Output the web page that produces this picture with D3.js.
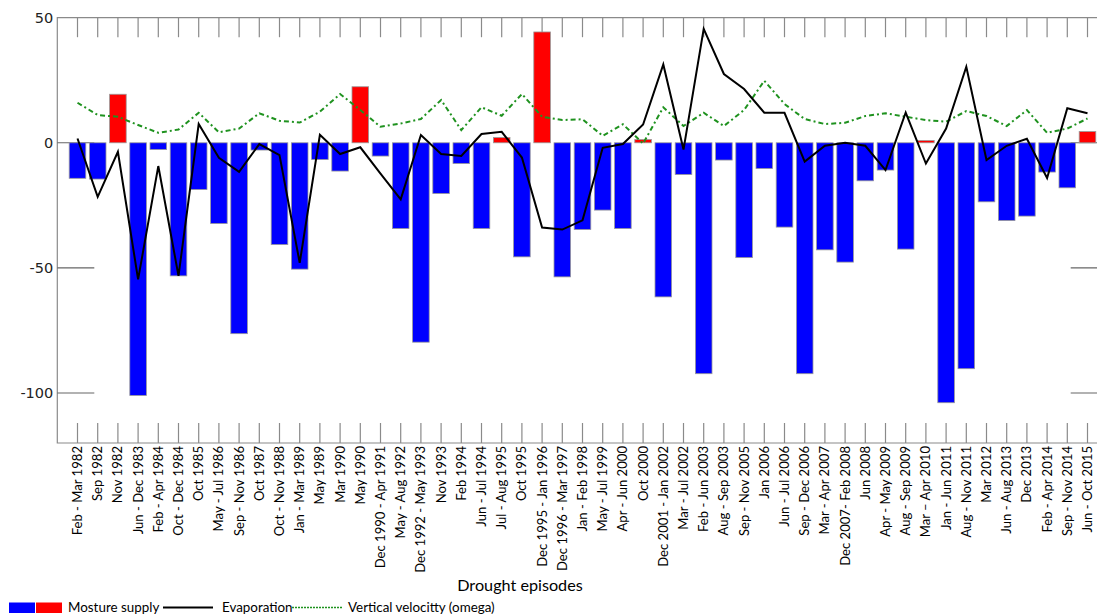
<!DOCTYPE html>
<html>
<head>
<meta charset="utf-8">
<script src="https://cdn.jsdelivr.net/npm/d3@7"></script>
<style>
  body { margin: 0; background: #fff; }
  svg { display: block; }
</style>
</head>
<body>
<div id="vis"></div>
<script>
var episodes = ["Feb - Mar 1982", "Sep 1982", "Nov 1982", "Jun - Dec 1983", "Feb - Apr 1984",
  "Oct - Dec 1984", "Oct 1985", "May - Jul 1986", "Sep - Nov 1986", "Oct 1987",
  "Oct - Nov 1988", "Jan - Mar 1989", "May 1989", "Mar 1990", "May 1990",
  "Dec 1990 - Apr 1991", "May - Aug 1992", "Dec 1992 - May 1993", "Nov 1993", "Feb 1994",
  "Jun - Jul 1994", "Jul - Aug 1995", "Oct 1995", "Dec 1995 - Jan 1996", "Dec 1996 - Mar 1997",
  "Jan - Feb 1998", "May - Jul 1999", "Apr - Jun 2000", "Oct 2000", "Dec 2001 - Jan 2002",
  "Mar - Jul 2002", "Feb - Jun 2003", "Aug - Sep 2003", "Sep - Nov 2005", "Jan 2006",
  "Jun - Jul 2006", "Sep - Dec 2006", "Mar - Apr 2007", "Dec 2007- Feb 2008", "Jun 2008",
  "Apr - May 2009", "Aug - Sep 2009", "Mar \u2013 Apr 2010", "Jan - Jun 2011", "Aug - Nov 2011",
  "Mar 2012", "Jun - Aug 2013", "Dec 2013", "Feb - Apr 2014", "Sep - Nov 2014",
  "Jun - Oct 2015"];

var moisture = [-14.2, -14.5, 19.4, -101, -2.7, -53.2, -18.7, -32.3, -76.3, -2.9,
  -40.7, -50.5, -6.7, -11.3, 22.4, -5.3, -34.3, -79.7, -20.3, -8.3,
  -34.3, 2.1, -45.6, 44.3, -53.6, -34.7, -26.9, -34.3, 1.3, -61.6,
  -12.7, -92.3, -6.9, -45.9, -10.3, -33.7, -92.3, -42.8, -47.7, -15.2,
  -10.9, -42.5, 0.9, -103.9, -90.3, -23.6, -31.1, -29.3, -11.7, -18,
  4.5];

var evaporation = [1.7, -21.6, -3.6, -54.6, -9.3, -53.2, 7.5, -6, -11.6, -0.5,
  -4.9, -48, 3.2, -4.5, -1.8, -12.3, -22.6, 3.1, -4.5, -5.3,
  3.5, 4.4, -5.9, -33.9, -34.7, -31, -2, -0.5, 7.3, 31.3,
  -2.7, 45.5, 27.5, 21.5, 12, 12, -7.5, -1.2, 0, -1.2,
  -10.9, 12.1, -8.3, 5.7, 30.4, -6.9, -1.2, 1.6, -14.1, 13.8,
  11.8];

var omega = [16, 11.1, 10.4, 7.1, 4, 5.3, 12, 4.2, 5.7, 11.8,
  8.8, 8.1, 12.4, 19.5, 13.1, 6.4, 7.7, 9.5, 17.1, 5.1,
  14.2, 10.8, 19.5, 10.4, 9.1, 9.4, 2.8, 7.4, -0.3, 14.2,
  6.7, 12, 6.7, 13.1, 24.8, 15.5, 9.5, 7.5, 8, 10.7,
  11.8, 10.4, 9.1, 8.4, 12.7, 10.7, 6.7, 13.1, 4, 5.7,
  9.7];

var yTicks = [50, 0, -50, -100];

var W = 1097, H = 615;
var mLeft = 57.3, mTop = 17.7, mBottom = 443, mRight = 1107.7;

var svg = d3.select("div#vis").append("svg")
  .attr("width", W)
  .attr("height", H);

var x = d3.scalePoint()
  .domain(episodes)
  .range([mLeft, mRight])
  .padding(1);

var y = d3.scaleLinear()
  .domain([-120, 50])
  .range([mBottom, mTop]);

var barW = 16.6;

// frame
svg.append("path")
  .attr("d", "M" + mRight + "," + mTop + "H" + mLeft + "V" + mBottom + "H" + mRight)
  .attr("fill", "none")
  .attr("stroke", "#8a8a8a")
  .attr("stroke-width", 1.2);

// inward ticks top and bottom
var ticks = svg.append("g").attr("stroke", "#8a8a8a").attr("stroke-width", 1.2);
ticks.selectAll(".tt").data(episodes).enter().append("line")
  .attr("class", "tt")
  .attr("x1", function(d) { return x(d); }).attr("x2", function(d) { return x(d); })
  .attr("y1", mTop).attr("y2", mTop + 19.5);
ticks.selectAll(".tb").data(episodes).enter().append("line")
  .attr("class", "tb")
  .attr("x1", function(d) { return x(d); }).attr("x2", function(d) { return x(d); })
  .attr("y1", mBottom - 20).attr("y2", mBottom);

// y ticks, both sides
var yt = svg.append("g").attr("stroke", "#666").attr("stroke-width", 1.1);
yt.selectAll(".yl").data(yTicks.slice(1)).enter().append("line")
  .attr("class", "yl")
  .attr("x1", mLeft).attr("x2", mLeft + 37)
  .attr("y1", function(d) { return y(d); }).attr("y2", function(d) { return y(d); });
yt.selectAll(".yr").data(yTicks.slice(1)).enter().append("line")
  .attr("class", "yr")
  .attr("x1", mRight - 37).attr("x2", mRight)
  .attr("y1", function(d) { return y(d); }).attr("y2", function(d) { return y(d); });

svg.append("g")
  .attr("font-family", "DejaVu Sans, sans-serif")
  .attr("font-size", 14.5)
  .attr("fill", "#222")
  .attr("text-anchor", "end")
  .selectAll("text").data(yTicks).enter().append("text")
  .attr("x", mLeft - 4)
  .attr("y", function(d) { return y(d); })
  .attr("dy", "0.36em")
  .text(function(d) { return d; });

// bars
svg.append("g").selectAll("rect")
  .data(moisture).enter().append("rect")
  .attr("x", function(d, i) { return x(episodes[i]) - barW / 2; })
  .attr("y", function(d) { return y(Math.max(0, d)); })
  .attr("width", barW)
  .attr("height", function(d) { return Math.abs(y(d) - y(0)); })
  .attr("fill", function(d) { return d >= 0 ? "#ff0000" : "#0000ff"; })
  .attr("stroke", "#999")
  .attr("stroke-width", 0.8);

var line = function(vals) {
  return d3.line()
    .x(function(d, i) { return x(episodes[i]); })
    .y(function(d) { return y(d); })(vals);
};

svg.append("path")
  .attr("d", line(omega))
  .attr("fill", "none")
  .attr("stroke", "#1f921f")
  .attr("stroke-width", 2)
  .attr("stroke-dasharray", "5,3,2,3");

svg.append("path")
  .attr("d", line(evaporation))
  .attr("fill", "none")
  .attr("stroke", "#000")
  .attr("stroke-width", 2);

// category labels
svg.append("g")
  .attr("font-family", "Lato, sans-serif")
  .attr("font-size", 13.1)
  .attr("fill", "#000")
  .selectAll("text").data(episodes).enter().append("text")
  .attr("transform", function(d) { return "translate(" + x(d) + ",446) rotate(-90)"; })
  .attr("text-anchor", "end")
  .attr("dy", "0.35em")
  .text(function(d) { return d; });

svg.append("text")
  .attr("x", 520).attr("y", 591)
  .attr("text-anchor", "middle")
  .attr("font-family", "Lato, sans-serif")
  .attr("font-size", 16.2)
  .text("Drought episodes");

// legend
var lg = svg.append("g").attr("font-family", "Lato, sans-serif").attr("font-size", 13.4);
lg.append("rect").attr("x", 9).attr("y", 602.5).attr("width", 26).attr("height", 10.5).attr("fill", "#0000ff");
lg.append("rect").attr("x", 36).attr("y", 602.5).attr("width", 26).attr("height", 10.5).attr("fill", "#ff0000");
lg.append("text").attr("x", 68).attr("y", 612).text("Mosture supply");
lg.append("line").attr("x1", 163).attr("x2", 213).attr("y1", 607.5).attr("y2", 607.5)
  .attr("stroke", "#000").attr("stroke-width", 2);
lg.append("text").attr("x", 222).attr("y", 612).text("Evaporation");
lg.append("line").attr("x1", 292).attr("x2", 343).attr("y1", 607.5).attr("y2", 607.5)
  .attr("stroke", "#1f921f").attr("stroke-width", 1.5).attr("stroke-dasharray", "2,1");
lg.append("text").attr("x", 348).attr("y", 612).text("Vertical velocitty (omega)");
</script>
</body>
</html>
